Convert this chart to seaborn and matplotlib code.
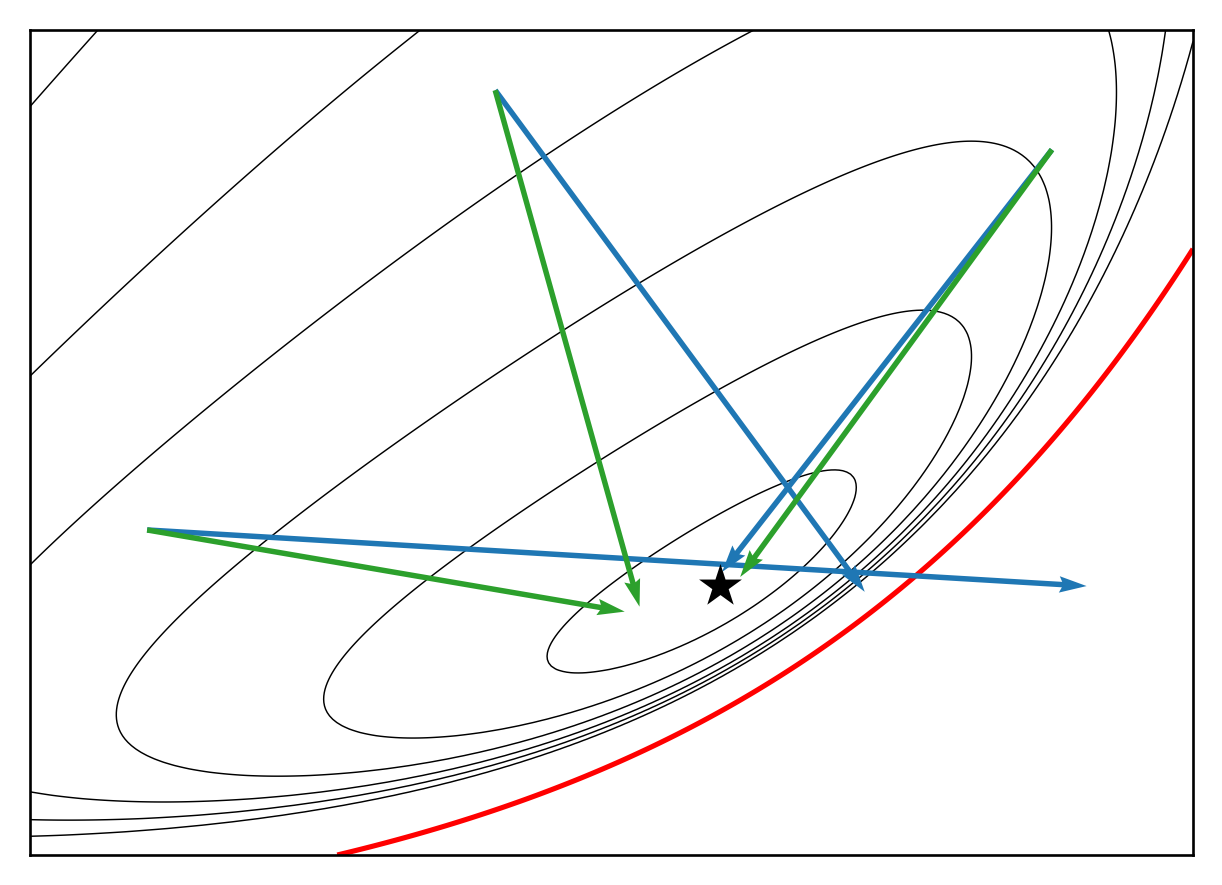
import numpy as np
import matplotlib
matplotlib.use('Agg')
import matplotlib.pyplot as plt
import seaborn as sns

# red constraint boundary  y = a*exp(k*x) + c  (axes units, 825 px per unit)
bound_a, bound_k, bound_c = 0.0665, 1.82, -0.131
# optimum (star)
star_x, star_y = 0.836, 0.326
# how fast the objective grows along x
spread_k, spread_w = 1.5, 0.0125
shift_w = 0.21

# two points read on each contour, their mean value sets its level
level_x1 = [0.836, 1.137, 1.230, 1.309, 1.376, 1.410]
level_y1 = [0.412, 0.588, 0.745, 1.000, 1.000, 0.985]
level_x2 = [0.624, 0.347, 0.081, 0.000, 0.000, 0.000]
level_y2 = [0.242, 0.188, 0.164, 0.349, 0.585, 0.903]

# arrows: common start points, end of blue step and of green step
start_x = [0.142, 0.564, 1.239]
start_y = [0.394, 0.927, 0.855]
blue_x = [1.281, 1.012, 0.839]
blue_y = [0.326, 0.319, 0.343]
green_x = [0.721, 0.739, 0.861]
green_y = [0.295, 0.301, 0.337]

x_max, y_max = 1.41, 1.0


def boundary(x):
    return bound_a * np.exp(bound_k * x) + bound_c


def objective(x, y):
    g = y - boundary(x)
    g0 = star_y - boundary(star_x)
    phi = spread_w * (np.exp(spread_k * x) - np.exp(spread_k * star_x)) ** 2
    with np.errstate(divide='ignore', invalid='ignore'):
        f = 0.5 * np.log(g) + (g0 + phi) / (2 * g) + shift_w * (x - star_x) ** 2
    return np.where(g > 0, f, np.nan)


sns.set_style('white')
fig = plt.figure(figsize=(12.22, 8.85), dpi=100)
ax = fig.add_axes([30 / 1222, 30 / 885, 1163 / 1222, 825 / 885])

xs = np.linspace(0, x_max, 300)
ys = np.linspace(0, y_max, 250)
X, Y = np.meshgrid(xs, ys)
Z = objective(X, Y)
f1 = objective(np.array(level_x1), np.array(level_y1))
f2 = objective(np.array(level_x2), np.array(level_y2))
levels = np.sort((f1 + f2) / 2)

# level sets of the objective, and the constraint boundary (g = 0)
ax.contour(X, Y, Z, levels=levels, colors='k', linewidths=1.05, linestyles='solid', zorder=1)
ax.contour(X, Y, Y - boundary(X), levels=[0], colors='red', linewidths=3.7,
           linestyles='solid', zorder=2)

sx, sy = np.array(start_x), np.array(start_y)
ax.quiver(sx, sy, np.array(blue_x) - sx, np.array(blue_y) - sy, color='#1f77b4',
          angles='xy', scale_units='xy', scale=1, width=0.0047, zorder=3)
ax.quiver(sx, sy, np.array(green_x) - sx, np.array(green_y) - sy, color='#2ca02c',
          angles='xy', scale_units='xy', scale=1, width=0.0047, zorder=4)

sns.scatterplot(x=[star_x], y=[star_y], marker='*', s=1050, color='k', linewidth=0, ax=ax, zorder=5)

ax.set_xlim(0, x_max)
ax.set_ylim(0, y_max)
ax.set_xticks([])
ax.set_yticks([])
for sp in ax.spines.values():
    sp.set_visible(True)
    sp.set_color('k')
    sp.set_linewidth(1.9)

fig.savefig('out.png', dpi=100)
